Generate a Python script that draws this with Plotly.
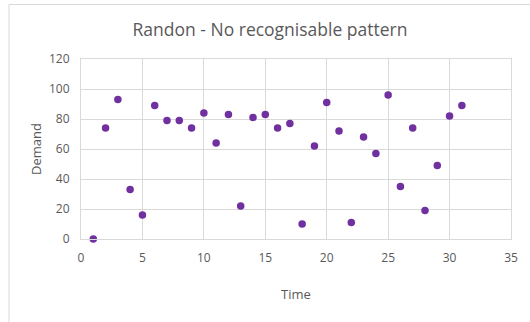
import plotly.graph_objects as go

# Demand observed at each time period
time = list(range(1, 32))
demand = [0, 74, 93, 33, 16, 89, 79, 79, 74, 84, 64, 83, 22, 81, 83,
          74, 77, 10, 62, 91, 72, 11, 68, 57, 96, 35, 74, 19, 49, 82, 89]

title_text = "Randon - No recognisable pattern"
x_title = "Time"
y_title = "Demand"

W, H = 530, 322
ML, MR, MT, MB = 81, 16, 59, 83
pw, ph = W - ML - MR, H - MT - MB

def px_to_paper_x(px):
    return (px - ML) / pw

def px_to_paper_y(py):
    return (H - MB - py) / ph

font_family = "Open Sans, Liberation Sans, sans-serif"
grey_text = "#595959"
grid = "#d9d9d9"

fig = go.Figure(
    go.Scatter(
        x=time, y=demand, mode="markers",
        marker=dict(color="#7030A0", size=7.5, line=dict(width=0)),
        cliponaxis=False,
    )
)

axis_common = dict(
    showgrid=True, gridcolor=grid, gridwidth=1,
    showline=True, linecolor=grid, linewidth=1, mirror=True,
    zeroline=False, ticks="",
    tickfont=dict(family=font_family, size=12, color=grey_text),
)

fig.update_xaxes(range=[0, 35], dtick=5, tick0=0, ticklabelstandoff=8,
                 title=dict(text=x_title, standoff=24,
                            font=dict(family=font_family, size=13, color=grey_text)),
                 **axis_common)
fig.update_yaxes(range=[0, 120], dtick=20, tick0=0, ticklabelstandoff=8,
                 title=dict(text=y_title, standoff=4,
                            font=dict(family=font_family, size=13, color=grey_text)),
                 **axis_common)

fig.update_layout(
    width=W, height=H,
    margin=dict(l=ML, r=MR, t=MT, b=MB),
    paper_bgcolor="white", plot_bgcolor="white",
    showlegend=False,
    title=dict(text=title_text, x=270 / W, xref="container", xanchor="center",
               y=1 - 30 / H, yref="container", yanchor="middle",
               font=dict(family=font_family, size=17.5, color=grey_text)),
    shapes=[dict(type="rect", xref="paper", yref="paper",
                 x0=px_to_paper_x(8.5), x1=px_to_paper_x(560),
                 y0=px_to_paper_y(360), y1=px_to_paper_y(4.5),
                 line=dict(color="#d9d9d9", width=1), fillcolor="rgba(0,0,0,0)",
                 layer="below")],
)

fig.write_html("out.html")
